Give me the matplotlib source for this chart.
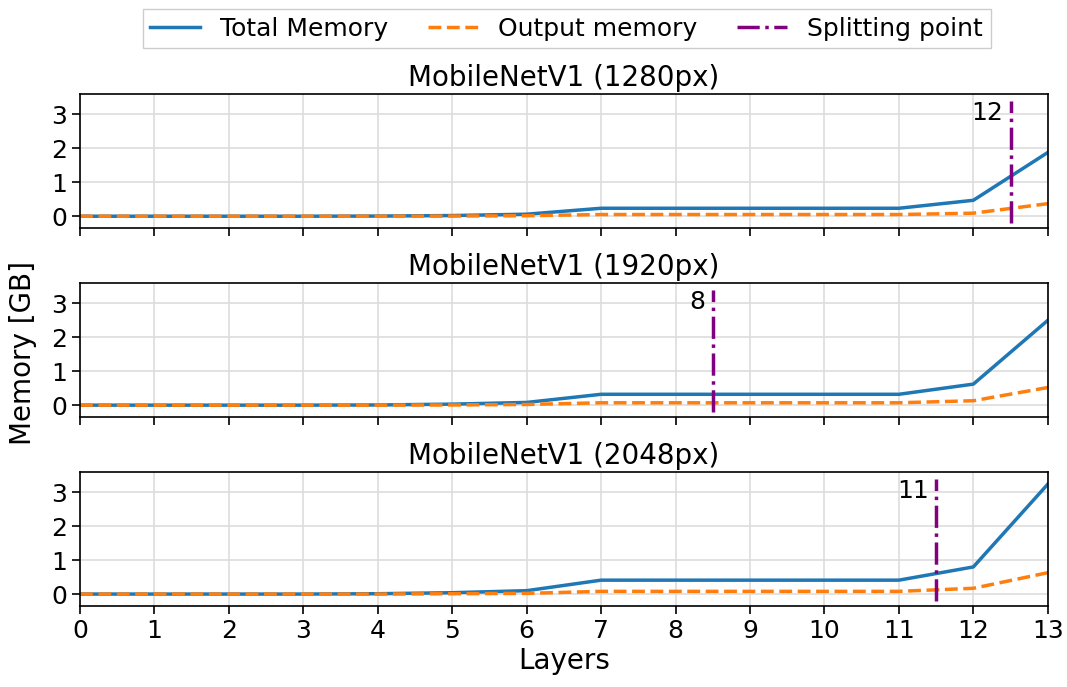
import numpy as np
import matplotlib.pyplot as plt

layers = np.arange(14)
titles = ["MobileNetV1 (1280px)", "MobileNetV1 (1920px)", "MobileNetV1 (2048px)"]

total_1280 = [0, 0, 0, 0, 0.005, 0.02, 0.06, 0.235, 0.235, 0.235, 0.235, 0.235, 0.47, 1.88]
output_1280 = [0, 0, 0, 0, 0, 0.005, 0.015, 0.05, 0.05, 0.05, 0.05, 0.05, 0.09, 0.37]
total_1920 = [0, 0, 0, 0, 0.005, 0.03, 0.08, 0.32, 0.32, 0.32, 0.32, 0.32, 0.62, 2.5]
output_1920 = [0, 0, 0, 0, 0, 0.005, 0.02, 0.07, 0.07, 0.07, 0.07, 0.07, 0.13, 0.52]
total_2048 = [0, 0, 0, 0, 0.01, 0.04, 0.1, 0.41, 0.41, 0.41, 0.41, 0.41, 0.8, 3.24]
output_2048 = [0, 0, 0, 0, 0, 0.01, 0.02, 0.08, 0.08, 0.08, 0.08, 0.08, 0.17, 0.63]

split_points = [12, 8, 11]

totals = [total_1280, total_1920, total_2048]
outputs = [output_1280, output_1920, output_2048]

plt.rcParams["font.size"] = 18

fig, axes = plt.subplots(3, 1, figsize=(10.67, 6.87), dpi=100, sharex=True)
fig.subplots_adjust(left=0.075, right=0.982, top=0.863, bottom=0.118, hspace=0.41)

for ax, title, tot, out, sp in zip(axes, titles, totals, outputs, split_points):
    ax.plot(layers, tot, color="tab:blue", lw=2.5, label="Total Memory")
    ax.plot(layers, out, color="tab:orange", lw=2.5, ls="--", label="Output memory")
    # split marker sits between layer sp and sp+1
    ax.vlines(sp + 0.5, -0.2, 3.4, color="purple", lw=2.5, ls="-.", label="Splitting point")
    ax.text(sp + 0.4, 3.05, str(sp), ha="right", va="center", fontsize=18)
    ax.set_title(title, fontsize=20, pad=6)
    ax.set_xlim(0, 13)
    ax.set_ylim(-0.35, 3.6)
    ax.set_yticks([0, 1, 2, 3])
    ax.set_xticks(layers)
    ax.grid(True, color="#dddddd", lw=1.2)
    ax.set_axisbelow(True)
    ax.tick_params(length=6, width=1.2, labelsize=18)
    for s in ax.spines.values():
        s.set_linewidth(1.2)

axes[-1].set_xlabel("Layers", fontsize=20, labelpad=3)
fig.supylabel("Memory [GB]", x=0.008, y=0.486, fontsize=20)

handles, labels = axes[0].get_legend_handles_labels()
fig.legend(handles, labels, loc="upper center", ncol=3, bbox_to_anchor=(0.531, 1.005),
           fancybox=False, framealpha=1, edgecolor="#cccccc", fontsize=18,
           handlelength=2.0, borderpad=0.3, columnspacing=1.6)

fig.savefig("out.png")
